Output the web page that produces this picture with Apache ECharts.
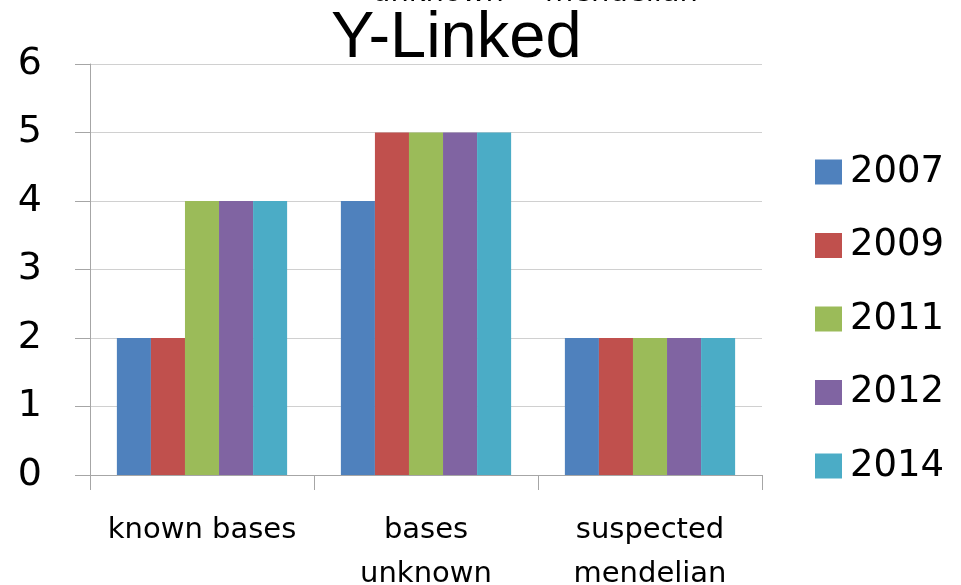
<!DOCTYPE html>
<html>
<head>
<meta charset="utf-8">
<script src="https://cdn.jsdelivr.net/npm/echarts@6/dist/echarts.min.js"></script>
<style>
  html, body { margin: 0; padding: 0; background: #fff; }
  #chart { width: 961px; height: 585px; }
</style>
</head>
<body>
<div id="chart"></div>
<script>
// Category labels (with line breaks as drawn under the axis)
const categories = ['known bases', 'bases\nunknown', 'suspected\nmendelian'];

// Counts per category for each year
const years = ['2007', '2009', '2011', '2012', '2014'];
const v2007 = [2, 4, 2];
const v2009 = [2, 5, 2];
const v2011 = [4, 5, 2];
const v2012 = [4, 5, 2];
const v2014 = [4, 5, 2];
const yearValues = [v2007, v2009, v2011, v2012, v2014];

const yearColors = ['#4F81BD', '#C0504D', '#9BBB59', '#8064A2', '#4BACC6'];

const yTicks = [0, 1, 2, 3, 4, 5, 6];

const chart = echarts.init(document.getElementById('chart'), null, { renderer: 'canvas' });

const labelFont = 'DejaVu Sans';

chart.setOption({
  animation: false,
  backgroundColor: '#ffffff',
  color: yearColors,
  title: {
    text: 'Y-Linked',
    left: 326,
    top: 2,
    textStyle: {
      fontFamily: 'Liberation Sans',
      fontSize: 65,
      fontWeight: 'normal',
      color: '#000'
    }
  },
  graphic: [
    // Lower edge of the previous panel's axis labels, cut off at the top
    {
      type: 'text', left: 372, top: -21, silent: true,
      style: { text: 'unknown', font: '29px "DejaVu Sans"', fill: '#000' }
    },
    {
      type: 'text', left: 545, top: -21, silent: true,
      style: { text: 'mendelian', font: '29px "DejaVu Sans"', fill: '#000' }
    }
  ],
  legend: {
    orient: 'vertical',
    left: 810,
    top: 147,
    itemWidth: 27,
    itemHeight: 25,
    itemGap: 33.5,
    icon: 'rect',
    data: years,
    textStyle: {
      fontFamily: labelFont,
      fontSize: 37,
      lineHeight: 40,
      color: '#000',
      padding: [0, 0, 0, 3]
    }
  },
  grid: {
    left: 90,
    right: 199,
    top: 64,
    bottom: 110,
    containLabel: false,
    outerBoundsMode: 'none'
  },
  xAxis: {
    type: 'category',
    data: categories,
    axisLine: { show: true, lineStyle: { color: '#a6a6a6', width: 1 } },
    axisTick: { show: true, length: 15, alignWithLabel: false, lineStyle: { color: '#a6a6a6' } },
    axisLabel: {
      interval: 0,
      margin: 33,
      fontFamily: labelFont,
      fontSize: 29,
      lineHeight: 44,
      color: '#000'
    },
    splitLine: { show: false }
  },
  yAxis: {
    type: 'value',
    min: yTicks[0],
    max: yTicks[yTicks.length - 1],
    interval: 1,
    axisLine: { show: true, lineStyle: { color: '#a6a6a6', width: 1 } },
    axisTick: { show: true, length: 15, lineStyle: { color: '#a6a6a6' } },
    axisLabel: {
      margin: 48,
      fontFamily: labelFont,
      fontSize: 38,
      color: '#000'
    },
    splitLine: { show: true, lineStyle: { color: '#d0d0d0', width: 1 } }
  },
  series: years.map((y, i) => ({
    name: y,
    type: 'bar',
    data: yearValues[i],
    barGap: '0%',
    barCategoryGap: '24%',
    itemStyle: { color: yearColors[i] }
  }))
});
</script>
</body>
</html>
